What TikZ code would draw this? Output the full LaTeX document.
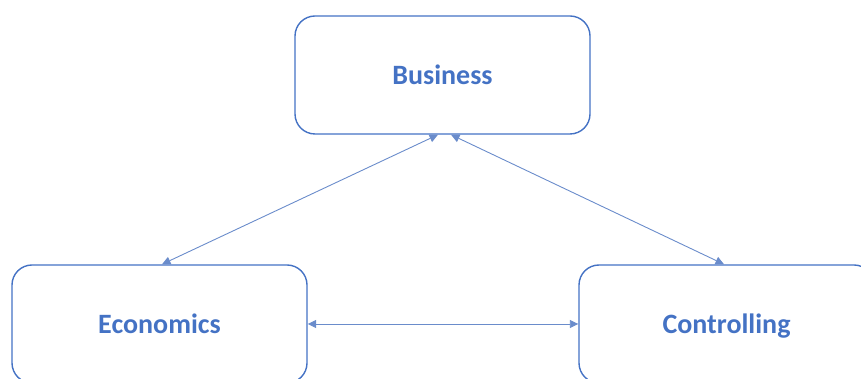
\documentclass[tikz,border=0pt]{standalone}
\usepackage{fontspec}
\setmainfont{Carlito}
\usetikzlibrary{arrows.meta}
\definecolor{myblue}{HTML}{4472C4}
\definecolor{mylineblue}{HTML}{6A8CCB}
\begin{document}
\begin{tikzpicture}[x=1pt,y=1pt]
\tikzstyle{mybox} = [draw=myblue, line width=1.4pt, rounded corners=20pt, minimum width=295pt, minimum height=118pt, text height=22pt, text depth=2pt, text=myblue, font=\fontsize{28}{34}\selectfont\bfseries] % box style
\tikzstyle{myarrow} = [draw=mylineblue, line width=0.9pt, {Triangle[length=8.5pt,width=8pt]}-{Triangle[length=8.5pt,width=8pt]}] % two-headed arrow
\clip (0,0) rectangle (861,379); % frame of the picture
\node[mybox] (business) at (442.5,304) {Business};
\node[mybox] (economics) at (159.5,55) {Economics};
\node[mybox] (controlling) at (726.5,55) {Controlling};
\draw[myarrow] ([xshift=-4.5pt]business.south) -- ([xshift=2.5pt]economics.north);
\draw[myarrow] ([xshift=8.5pt]business.south) -- ([xshift=-2.5pt]controlling.north);
\draw[myarrow] (economics.east) -- (controlling.west);
\end{tikzpicture}
\end{document}
